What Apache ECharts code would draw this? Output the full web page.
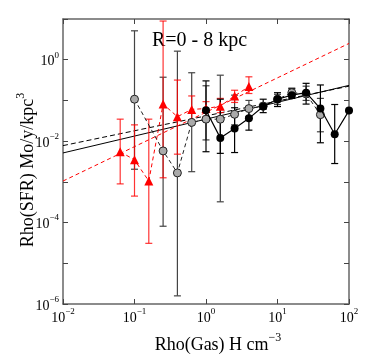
<!DOCTYPE html>
<html>
<head>
<meta charset="utf-8">
<script src="https://cdn.jsdelivr.net/npm/echarts@6/dist/echarts.min.js"></script>
<style>
  html, body { margin: 0; padding: 0; background: #fff; }
  #chart { width: 381px; height: 357px; }
</style>
</head>
<body>
<div id="chart"></div>
<script>
// all values are log10 (x: gas density, y: SFR density)
const redX  = [-1.2, -1.0, -0.8, -0.6, -0.4, -0.2, 0.0, 0.2, 0.4, 0.6]
const redY  = [-2.26, -2.46, -2.98, -1.09, -1.40, -1.22, -1.20, -1.14, -0.89, -0.66]
const redLo = [-3.05, -3.35, -4.51, -2.90, -2.32, -1.55, -1.40, -1.30, -1.05, -0.83]
const redHi = [-1.46, -1.60, -1.46, 0.95, -0.50, -0.89, -1.03, -0.95, -0.75, -0.42]

const grayX  = [-1.0, -0.6, -0.4, -0.2, 0.0, 0.2, 0.4, 0.6, 0.8, 1.0, 1.2, 1.4, 1.6]
const grayY  = [-0.97, -2.24, -2.78, -1.54, -1.46, -1.46, -1.34, -1.20, -1.14, -0.97, -0.81, -0.84, -1.35]
const grayLo = [-2.69, -4.09, -5.80, -2.75, -1.97, -3.49, -1.60, -1.40, -1.22, -1.10, -0.92, -1.00, -1.77]
const grayHi = [0.71, -0.43, 0.21, -0.32, -0.64, -0.38, -0.87, -1.00, -1.07, -0.85, -0.72, -0.65, -0.95]

const blackX  = [0.0, 0.2, 0.4, 0.6, 0.8, 1.0, 1.2, 1.4, 1.6, 1.8, 2.0]
const blackY  = [-1.24, -1.92, -1.69, -1.44, -1.15, -0.97, -0.87, -0.81, -1.20, -1.83, -1.25]
const blackLo = [-2.26, -2.30, -2.28, -1.73, -1.30, -1.15, -0.95, -1.09, -2.04, -2.55, -1.25]
const blackHi = [-0.52, -0.97, -1.18, -1.19, -0.97, -0.81, -0.70, -0.58, -0.62, -1.10, -1.25]

// power-law fits, endpoints at log x = -2 and 2
const fitX      = [-2, 2]
const fitSolid  = [-2.29, -0.63]
const fitDashed = [-2.11, -0.65]
const fitRed    = [-2.98, 0.40]

const xTicks = [-2, -1, 0, 1, 2]
const yTicks = [-6, -4, -2, 0]

const FONT = 'Liberation Serif'
const zip = (a, b) => a.map((v, i) => [v, b[i]])
const zip3 = (a, b, c) => a.map((v, i) => [v, b[i], c[i]])

function errBars(color) {
  return function (params, api) {
    const x = api.value(0)
    const p1 = api.coord([x, api.value(1)])
    const p2 = api.coord([x, api.value(2)])
    const w = 3.5
    const st = { stroke: color, lineWidth: 1.2 }
    return {
      type: 'group',
      children: [
        { type: 'line', shape: { x1: p1[0], y1: p1[1], x2: p2[0], y2: p2[1] }, style: st },
        { type: 'line', shape: { x1: p1[0] - w, y1: p1[1], x2: p1[0] + w, y2: p1[1] }, style: st },
        { type: 'line', shape: { x1: p2[0] - w, y1: p2[1], x2: p2[0] + w, y2: p2[1] }, style: st },
      ],
    }
  }
}

const tickRich = {
  b: { fontFamily: FONT, fontSize: 14, color: '#000', lineHeight: 18, verticalAlign: 'bottom' },
  s: { fontFamily: FONT, fontSize: 9, color: '#000', lineHeight: 10, verticalAlign: 'top' },
}
const pow = (v) => '{b|10}{s|' + String(v).replace('-', '\u2212') + '}'

const frame = { onZero: false, lineStyle: { color: '#666', width: 1.5 } }
const tick = { inside: true, length: 5, lineStyle: { color: '#444', width: 1 } }

const chart = echarts.init(document.getElementById('chart'))
chart.setOption({
  animation: false,
  grid: { left: 63, right: 32, top: 19, bottom: 53 },
  xAxis: [
    {
      type: 'value', min: -2, max: 2, interval: 1, position: 'bottom',
      axisLine: frame, axisTick: tick, splitLine: { show: false },
      axisLabel: { margin: 3, formatter: (v) => (xTicks.includes(v) ? pow(v) : ''), rich: tickRich },
    },
    {
      type: 'value', min: -2, max: 2, interval: 1, position: 'top',
      axisLine: frame, axisTick: tick, axisLabel: { show: false }, splitLine: { show: false },
    },
  ],
  yAxis: [
    {
      type: 'value', min: -6, max: 1, interval: 1, position: 'left',
      axisLine: frame, axisTick: tick, splitLine: { show: false },
      axisLabel: { margin: 4, formatter: (v) => (yTicks.includes(v) ? pow(v) : ''), rich: tickRich },
    },
    {
      type: 'value', min: -6, max: 1, interval: 1, position: 'right',
      axisLine: frame, axisTick: tick, axisLabel: { show: false }, splitLine: { show: false },
    },
  ],
  graphic: [
    {
      type: 'text', x: 152, y: 41,
      style: { text: 'R=0 - 8 kpc', font: '20px "' + FONT + '"', fill: '#000', verticalAlign: 'middle' },
    },
    {
      type: 'text', x: 218, y: 343,
      style: {
        text: '{b|Rho(Gas) H cm}{s|\u22123}', align: 'center', verticalAlign: 'middle',
        rich: {
          b: { fontFamily: FONT, fontSize: 18, fill: '#000', lineHeight: 22, verticalAlign: 'bottom' },
          s: { fontFamily: FONT, fontSize: 12, fill: '#000', lineHeight: 12, verticalAlign: 'top' },
        },
      },
    },
    {
      type: 'text', x: 26, y: 170, rotation: Math.PI / 2,
      style: {
        text: '{b|Rho(SFR) Mo/y/kpc}{s|3}', align: 'center', verticalAlign: 'middle',
        rich: {
          b: { fontFamily: FONT, fontSize: 18, fill: '#000', lineHeight: 22, verticalAlign: 'bottom' },
          s: { fontFamily: FONT, fontSize: 12, fill: '#000', lineHeight: 12, verticalAlign: 'top' },
        },
      },
    },
  ],
  series: [
    { type: 'line', data: zip(fitX, fitSolid), symbol: 'none', lineStyle: { color: '#000', width: 1 }, z: 1 },
    { type: 'line', data: zip(fitX, fitDashed), symbol: 'none', lineStyle: { color: '#000', width: 1, type: [5, 3] }, z: 1 },
    { type: 'line', data: zip(fitX, fitRed), symbol: 'none', lineStyle: { color: '#ff0000', width: 1, type: [4, 3] }, z: 1 },

    { type: 'custom', data: zip3(grayX, grayLo, grayHi), renderItem: errBars('#444'), encode: { x: 0, y: [1, 2] }, z: 2 },
    { type: 'custom', data: zip3(redX, redLo, redHi), renderItem: errBars('rgba(255,0,0,0.8)'), encode: { x: 0, y: [1, 2] }, z: 3 },
    { type: 'custom', data: zip3(blackX, blackLo, blackHi), renderItem: errBars('#000'), encode: { x: 0, y: [1, 2] }, z: 4 },

    {
      type: 'line', data: zip(redX, redY), symbol: 'triangle', symbolSize: 9,
      itemStyle: { color: '#ff0000' }, lineStyle: { color: '#ff0000', width: 1, type: [4, 3] }, z: 5,
    },
    {
      type: 'line', data: zip(grayX, grayY), symbol: 'circle', symbolSize: 8,
      itemStyle: { color: '#aaa', borderColor: '#222', borderWidth: 1 },
      lineStyle: { color: '#222', width: 1, type: [4, 3] }, z: 6,
    },
    {
      type: 'line', data: zip(blackX, blackY), symbol: 'circle', symbolSize: 8,
      itemStyle: { color: '#000' }, lineStyle: { color: '#000', width: 1.2 }, z: 7,
    },
  ],
})
</script>
</body>
</html>
